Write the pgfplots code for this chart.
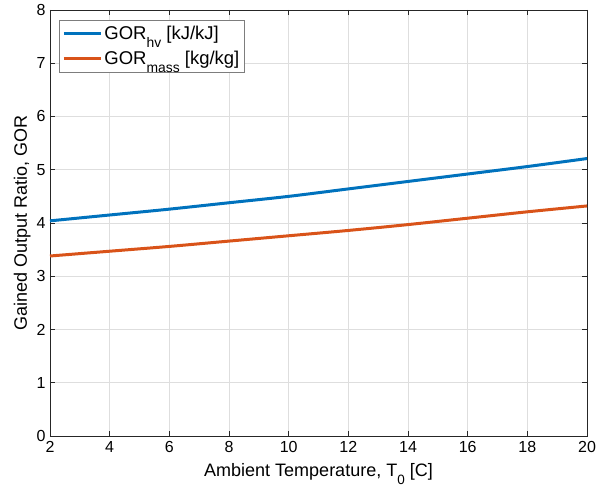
\documentclass[border=0pt]{standalone}
\usepackage{pgfplots}
\pgfplotsset{compat=1.18}
\usepackage{fontspec}
\setmainfont{Liberation Sans}
\definecolor{mblue}{rgb}{0,0.447,0.741}
\definecolor{morange}{rgb}{0.85,0.325,0.098}
\definecolor{maxis}{rgb}{0.15,0.15,0.15}
\definecolor{mgrid}{rgb}{0.87,0.87,0.87}
\newcommand{\msub}[1]{\raisebox{-0.42em}{\scalebox{0.75}{#1}}}
\begin{document}
\begin{tikzpicture}
\begin{axis}[
  scale only axis,
  width=537pt, height=426pt,
  xmin=2, xmax=20, ymin=0, ymax=8,
  xtick={2,4,...,20}, ytick={0,1,...,8},
  grid=major,
  major grid style={mgrid, line width=0.6pt},
  axis line style={maxis, line width=0.8pt},
  tick style={maxis, line width=0.8pt},
  major tick length=5pt,
  tick align=inside,
  tick pos=both,
  /pgf/number format/assume math mode=true,
  ticklabel style={font=\fontsize{16}{19}\selectfont, text=black},
  xticklabel style={yshift=-2pt},
  yticklabel style={xshift=-1pt},
  xlabel={Ambient Temperature, T\msub{0} [C]},
  ylabel={Gained Output Ratio, GOR},
  label style={font=\fontsize{18}{21}\selectfont},
  xlabel style={yshift=-4pt},
  ylabel style={yshift=-1pt},
  legend style={at={(0.017,0.9765)}, anchor=north west, draw=maxis!60, fill=white,
    font=\fontsize{18.5}{22}\selectfont, line width=0.6pt,
    inner xsep=3pt, inner ysep=4pt, row sep=6pt},
  legend cell align=left,
  legend image code/.code={\draw[#1, line width=3pt] (0pt,0pt) -- (37pt,0pt);},
]
\addplot[mblue, line width=3pt, smooth] coordinates {
(2,4.04) (4,4.15) (6,4.26) (8,4.38) (10,4.50) (12,4.64) (14,4.78) (16,4.92) (18,5.06) (20,5.21)};
\addlegendentry{GOR\msub{hv} [kJ/kJ]}
\addplot[morange, line width=3pt, smooth] coordinates {
(2,3.38) (4,3.47) (6,3.56) (8,3.66) (10,3.76) (12,3.86) (14,3.97) (16,4.09) (18,4.21) (20,4.32)};
\addlegendentry{GOR\msub{mass} [kg/kg]}
\end{axis}
\pgfresetboundingbox
\useasboundingbox ([xshift=-50pt,yshift=-55pt]current axis.south west) rectangle ([xshift=12pt,yshift=10pt]current axis.north east);
\end{tikzpicture}
\end{document}
